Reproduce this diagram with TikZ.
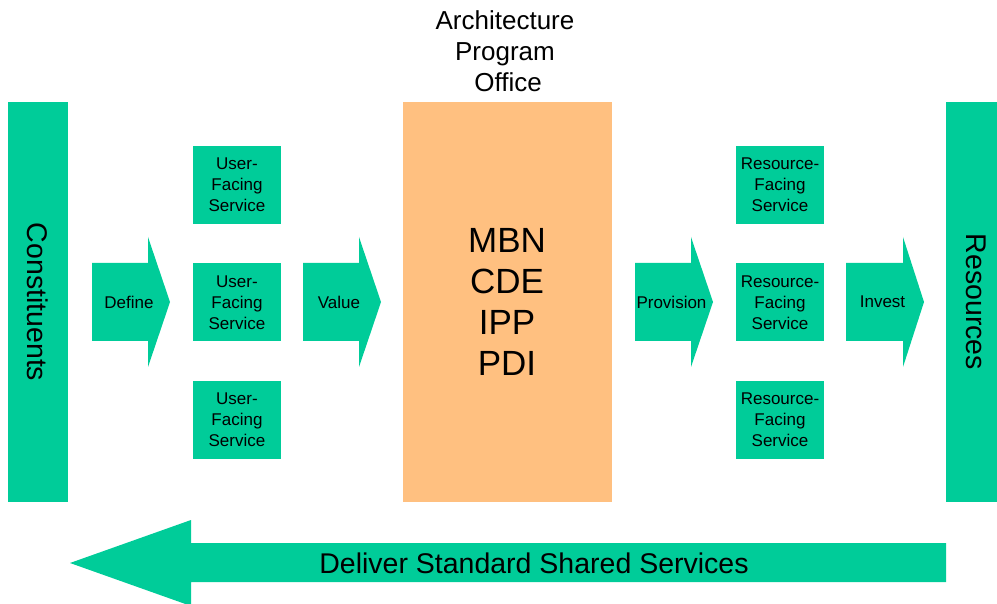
\documentclass[tikz,border=0pt]{standalone}
\usepackage{fontspec}
\setmainfont{Liberation Sans}
\usepackage{tikz}

\definecolor{svcgreen}{RGB}{0,204,153}
\definecolor{apoorange}{RGB}{255,192,128}

\begin{document}
\begin{tikzpicture}[
    x=1pt, y=-1pt,
    bar/.style={rectangle, fill=svcgreen, inner sep=0pt, rotate=-90,
                minimum width=400, minimum height=60,
                font=\fontsize{28.5}{34}\selectfont},
    office/.style={rectangle, fill=apoorange, inner sep=0pt,
                   minimum width=209, minimum height=400, align=center,
                   font=\fontsize{35}{41.3}\selectfont},
    svcbox/.style={rectangle, fill=svcgreen, inner sep=0pt,
                   minimum width=88, minimum height=78, align=center,
                   font=\fontsize{17}{21}\selectfont},
    flow/.style={fill=svcgreen},
    flowlabel/.style={inner sep=0pt, font=\fontsize{17}{21}\selectfont},
    title/.style={align=center, inner sep=0pt, font=\fontsize{26}{31}\selectfont}
]
  \useasboundingbox (0,0) rectangle (997,604);

  \node[bar] (const) at (38,302) {Constituents};
  \node[bar] (res) at (976,302) {Resources};

  \node[office] (apo) at (507,302) {MBN\\CDE\\IPP\\PDI};
  \node[title] (apotitle) at (505,51) {Architecture\\Program\\\hspace*{6pt}Office};

  \node[svcbox] (ufs1) at (237,185) {User-\\Facing\\Service};
  \node[svcbox] (ufs2) at (237,302.5) {User-\\Facing\\Service};
  \node[svcbox] (ufs3) at (237,419.5) {User-\\Facing\\Service};

  \node[svcbox] (rfs1) at (780,185) {Resource-\\Facing\\Service};
  \node[svcbox] (rfs2) at (780,302.5) {Resource-\\Facing\\Service};
  \node[svcbox] (rfs3) at (780,419.5) {Resource-\\Facing\\Service};

  % block arrows between the columns
  \fill[flow] (92,263) -- (148,263) -- (148,237) -- (170,302)
    -- (148,367) -- (148,341) -- (92,341) -- cycle;
  \node[flowlabel] (define) at (129,302) {Define};

  \fill[flow] (303,263) -- (359,263) -- (359,237) -- (381,302)
    -- (359,367) -- (359,341) -- (303,341) -- cycle;
  \node[flowlabel] (value) at (339,302) {Value};

  \fill[flow] (635,263) -- (691,263) -- (691,237) -- (713,302)
    -- (691,367) -- (691,341) -- (635,341) -- cycle;
  \node[flowlabel] (provision) at (671.5,302) {Provision};

  \fill[flow] (846,263) -- (903,263) -- (903,237) -- (924,302)
    -- (903,367) -- (903,341) -- (846,341) -- cycle;
  \node[flowlabel] (invest) at (882.5,302) {Invest};

  % return arrow along the bottom
  \fill[flow] (946,543) -- (191,543) -- (191,520) -- (70,563)
    -- (191,606) -- (191,582) -- (946,582) -- cycle;
  \node[inner sep=0pt, font=\fontsize{28.5}{34}\selectfont] (deliver)
    at (534,563) {Deliver Standard Shared Services};
\end{tikzpicture}
\end{document}
